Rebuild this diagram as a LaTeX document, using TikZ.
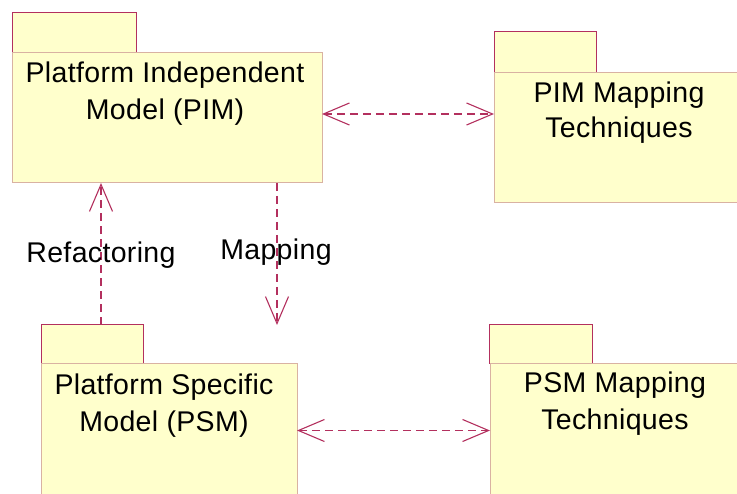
\documentclass[tikz,border=0pt]{standalone}
\usepackage{fontspec}
\setmainfont{Liberation Sans}[LetterSpace=1.2]
\usetikzlibrary{arrows.meta}

\definecolor{pkgfill}{HTML}{FFFFCC}
\definecolor{tabline}{HTML}{B3305E}
\definecolor{bodyline}{HTML}{D9B2A2}
\definecolor{depline}{HTML}{B3305E}

\tikzset{
  pkgtab/.style={draw=tabline, fill=pkgfill, line width=1pt, inner sep=0pt, outer sep=0pt, anchor=south west},
  pkgbody/.style={draw=bodyline, fill=pkgfill, line width=1pt, inner sep=0pt, outer sep=0pt, anchor=north west},
  pkgtext/.style={align=center, inner sep=0pt, anchor=north, font=\fontsize{28.5}{37}\selectfont},
  deplabel/.style={inner sep=0pt, anchor=base, font=\fontsize{28.5}{37}\selectfont},
  barb/.style={},
  dep/.style={draw=depline, line width=1.1pt, dash pattern=on 8pt off 5pt,
    {Straight Barb[length=26pt,width=22pt,line width=1.1pt]}-{Straight Barb[length=26pt,width=22pt,line width=1.1pt]}},
  depone/.style={draw=depline, line width=1.1pt, dash pattern=on 8pt off 5pt,
    -{Straight Barb[length=27pt,width=23pt,line width=1.1pt]}}
}

\begin{document}
\begin{tikzpicture}[x=1pt, y=-1pt]
  \useasboundingbox (0,0) rectangle (737,494);
  \clip (0,0) rectangle (737,494);

  % Platform Independent Model package
  \node[pkgtab, minimum width=124pt, minimum height=40pt] (pimtab) at (12,53) {};
  \node[pkgbody, minimum width=310pt, minimum height=130pt] (pim) at (12,53) {};
  \node[pkgtext] (pimtxt) at (165,62) {Platform Independent\\Model (PIM)};

  % PIM mapping techniques package
  \node[pkgtab, minimum width=102pt, minimum height=41pt] (pimmaptab) at (494,73) {};
  \node[pkgbody, minimum width=250pt, minimum height=130pt] (pimmap) at (494,73) {};
  \node[pkgtext, font=\fontsize{28.5}{35}\selectfont] (pimmaptxt) at (619,82) {PIM Mapping\\Techniques};

  % Platform Specific Model package
  \node[pkgtab, minimum width=102pt, minimum height=39pt] (psmtab) at (41,364) {};
  \node[pkgbody, minimum width=256pt, minimum height=131pt] (psm) at (41,364) {};
  \node[pkgtext] (psmtxt) at (164,374) {Platform Specific\\Model (PSM)};

  % PSM mapping techniques package
  \node[pkgtab, minimum width=103pt, minimum height=39pt] (psmmaptab) at (489,364) {};
  \node[pkgbody, minimum width=252pt, minimum height=131pt] (psmmap) at (490,364) {};
  \node[pkgtext] (psmmaptxt) at (615,372) {PSM Mapping\\Techniques};

  % Dependencies between the packages
  \draw[dep] ([yshift=4pt]pim.east) -- ([yshift=4pt]pim.east -| pimmap.west);
  \draw[dep] ([yshift=-1pt]psm.east) -- ([yshift=-1pt]psm.east -| psmmap.west);

  \coordinate (refstart) at ([xshift=9pt]psmtab.north);
  \draw[depone] (refstart) -- (refstart |- pim.south);
  \coordinate (mapstart) at ([xshift=110pt]pim.south);
  \draw[depone] (mapstart) -- (mapstart |- psmtab.north);

  \node[deplabel] (reflabel) at (101,263) {Refactoring};
  \node[deplabel] (maplabel) at (276,260) {Mapping};
\end{tikzpicture}
\end{document}
